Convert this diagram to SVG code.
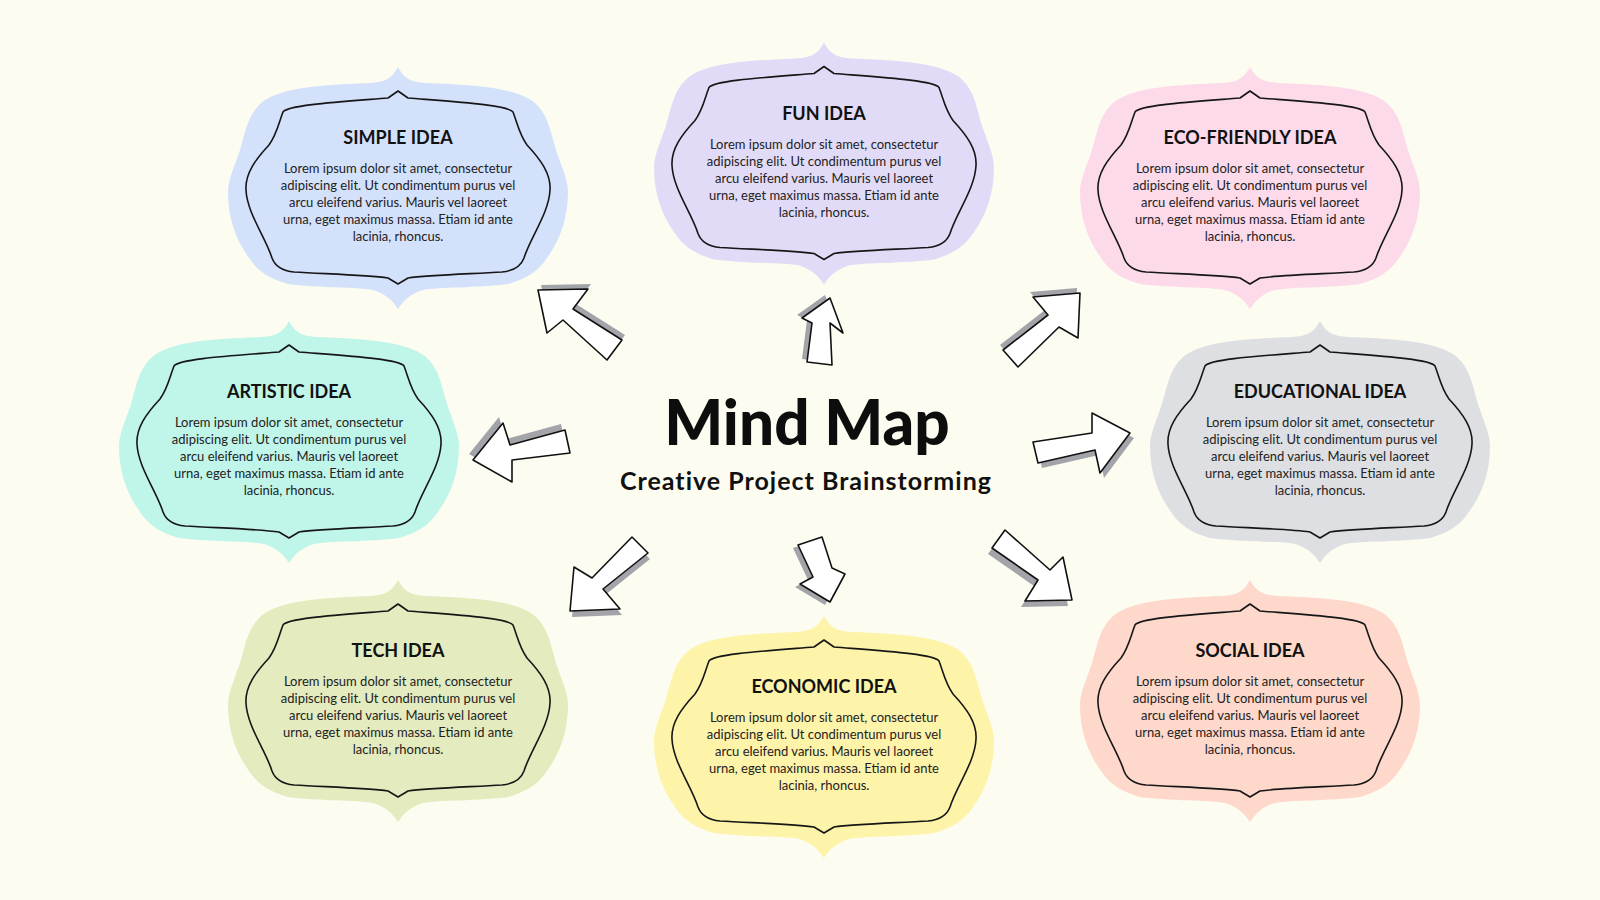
<svg xmlns="http://www.w3.org/2000/svg" xmlns:xlink="http://www.w3.org/1999/xlink" width="1600" height="900" viewBox="0 0 1600 900">
<style>
.bg{fill:#fdfcf0}
.outline{fill:none;stroke:#161616;stroke-width:1.6;stroke-linejoin:round}
.ttl{font-family:Lato,"Liberation Sans",sans-serif;font-weight:700;font-size:18px;fill:#111;text-anchor:middle}
.body{font-family:Lato,"Liberation Sans",sans-serif;font-size:13px;fill:#222;text-anchor:middle}
.arrow{fill:#ffffff;stroke:#111;stroke-width:1.6;stroke-linejoin:round}
.shadow{fill:#a3a3aa}
.main{font-family:Lato,"Liberation Sans",sans-serif;font-weight:900;font-size:62px;fill:#0d0d0d;text-anchor:middle}
.sub{font-family:Lato,"Liberation Sans",sans-serif;font-weight:700;font-size:25px;letter-spacing:1px;fill:#111;text-anchor:middle}
</style>
<defs>
<path id="outer" d="M0,-121 C6,-110 12,-106 28,-105 C70,-103 110,-102 133,-88 C150,-76 152,-58 158,-38 C164,-20 170,-8 170,4 C170,30 162,50 153,64 C145,76 138,88 110,96 C80,100 40,99 25,102 C12,106 6,112 0,121 C-6,112 -12,106 -25,102 C-40,99 -80,100 -110,96 C-138,88 -145,76 -153,64 C-162,50 -170,30 -170,4 C-170,-8 -164,-20 -158,-38 C-152,-58 -150,-76 -133,-88 C-110,-102 -70,-103 -28,-105 C-12,-106 -6,-110 0,-121 Z"/>
<path id="inner" d="M-115,-76 C-110,-83 -60,-86 -10,-90 L0,-97 L10,-90 C60,-86 110,-83 115,-76 C119,-66 121,-54 129,-43 C143,-28 153,-14 152,2 C151,25 132,50 126,70 C123,78 115,83 104,84 C70,86 30,87 10,90 L0,96 L-10,90 C-30,87 -70,86 -104,84 C-115,83 -123,78 -126,70 C-132,50 -151,25 -152,2 C-153,-14 -143,-28 -129,-43 C-121,-54 -119,-66 -115,-76 Z"/>
<g id="lorem">
<text class="body" x="0" y="-15">Lorem ipsum dolor sit amet, consectetur</text>
<text class="body" x="0" y="2">adipiscing elit. Ut condimentum purus vel</text>
<text class="body" x="0" y="19">arcu eleifend varius. Mauris vel laoreet</text>
<text class="body" x="0" y="36">urna, eget maximus massa. Etiam id ante</text>
<text class="body" x="0" y="53">lacinia, rhoncus.</text>
</g>
</defs>
<rect class="bg" x="0" y="0" width="1600" height="900"/>

<g id="title">
<text class="main" x="807" y="445">Mind Map</text>
<text class="sub" x="806" y="490">Creative Project Brainstorming</text>
</g>

<g id="node-simple" transform="translate(398,188)">
<use href="#outer" fill="#d4e1fb"/>
<use href="#inner" class="outline"/>
<text class="ttl" x="0" y="-44">SIMPLE IDEA</text>
<use href="#lorem"/>
</g>
<g id="node-fun" transform="translate(824,163.5)">
<use href="#outer" fill="#e2dbf7"/>
<use href="#inner" class="outline"/>
<text class="ttl" x="0" y="-44">FUN IDEA</text>
<use href="#lorem"/>
</g>
<g id="node-eco" transform="translate(1250,188)">
<use href="#outer" fill="#fcdaea"/>
<use href="#inner" class="outline"/>
<text class="ttl" x="0" y="-44">ECO-FRIENDLY IDEA</text>
<use href="#lorem"/>
</g>
<g id="node-artistic" transform="translate(289,442)">
<use href="#outer" fill="#c0f5ea"/>
<use href="#inner" class="outline"/>
<text class="ttl" x="0" y="-44">ARTISTIC IDEA</text>
<use href="#lorem"/>
</g>
<g id="node-educational" transform="translate(1320,442)">
<use href="#outer" fill="#dddfe2"/>
<use href="#inner" class="outline"/>
<text class="ttl" x="0" y="-44">EDUCATIONAL IDEA</text>
<use href="#lorem"/>
</g>
<g id="node-tech" transform="translate(398,701)">
<use href="#outer" fill="#e3ebbf"/>
<use href="#inner" class="outline"/>
<text class="ttl" x="0" y="-44">TECH IDEA</text>
<use href="#lorem"/>
</g>
<g id="node-economic" transform="translate(824,737)">
<use href="#outer" fill="#fdf3a9"/>
<use href="#inner" class="outline"/>
<text class="ttl" x="0" y="-44">ECONOMIC IDEA</text>
<use href="#lorem"/>
</g>
<g id="node-social" transform="translate(1250,701)">
<use href="#outer" fill="#fdd8cb"/>
<use href="#inner" class="outline"/>
<text class="ttl" x="0" y="-44">SOCIAL IDEA</text>
<use href="#lorem"/>
</g>

<g id="connectors">
<g id="arrow-simple">
<polygon class="shadow" transform="translate(3,-5)" points="538,290 588,289 573,309 622,340 607,360 563,320 547,333"/>
<polygon class="arrow" points="538,290 588,289 573,309 622,340 607,360 563,320 547,333"/>
</g>
<g id="arrow-fun">
<polygon class="shadow" transform="translate(-5,-3)" points="830,298 843,333 830,323 832,365 807,362 812,323 802,318"/>
<polygon class="arrow" points="830,298 843,333 830,323 832,365 807,362 812,323 802,318"/>
</g>
<g id="arrow-eco">
<polygon class="shadow" transform="translate(-3,-5)" points="1033,297 1080,293 1078,338 1059,327 1018,367 1003,350 1048,315"/>
<polygon class="arrow" points="1033,297 1080,293 1078,338 1059,327 1018,367 1003,350 1048,315"/>
</g>
<g id="arrow-educational">
<polygon class="shadow" transform="translate(4,5)" points="1033,442 1092,433 1092,413 1130,433 1100,473 1095,450 1038,463"/>
<polygon class="arrow" points="1033,442 1092,433 1092,413 1130,433 1100,473 1095,450 1038,463"/>
</g>
<g id="arrow-tech">
<polygon class="shadow" transform="translate(2,6)" points="632,537 648,553 603,589 620,609 570,611 574,567 592,578"/>
<polygon class="arrow" points="632,537 648,553 603,589 620,609 570,611 574,567 592,578"/>
</g>
<g id="arrow-economic">
<polygon class="shadow" transform="translate(-5,3)" points="798,545 822,537 832,568 845,574 830,602 800,584 813,577"/>
<polygon class="arrow" points="798,545 822,537 832,568 845,574 830,602 800,584 813,577"/>
</g>
<g id="arrow-social">
<polygon class="shadow" transform="translate(-4,6)" points="1005,530 992,548 1038,580 1025,601 1072,600 1063,557 1050,570"/>
<polygon class="arrow" points="1005,530 992,548 1038,580 1025,601 1072,600 1063,557 1050,570"/>
</g>
<g id="arrow-artistic">
<polygon class="shadow" transform="translate(-4,-6)" points="473,460 503,423 510,445 565,430 570,453 512,460 512,482"/>
<polygon class="arrow" points="473,460 503,423 510,445 565,430 570,453 512,460 512,482"/>
</g>
</g>
</svg>
